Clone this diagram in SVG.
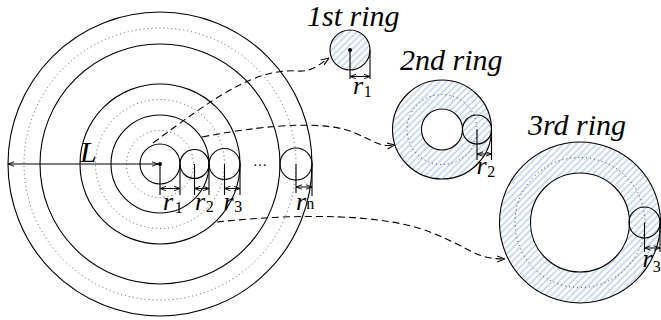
<svg xmlns="http://www.w3.org/2000/svg" width="661" height="320" viewBox="0 0 661 320">
<style>
.ln{fill:none;stroke:#000;stroke-width:1.1}
.dot{fill:none;stroke:#555;stroke-width:1;stroke-dasharray:1 3}
.dotk{fill:none;stroke:#222;stroke-width:0.9;stroke-dasharray:1 3}
.dim{fill:none;stroke:#000;stroke-width:1;marker-start:url(#ah);marker-end:url(#ah)}
.dash{fill:none;stroke:#000;stroke-width:1.1;stroke-dasharray:7 4;marker-end:url(#ac)}
.ttl{font-family:"Liberation Serif","Times New Roman",serif;font-style:italic;font-size:30px;fill:#000}
.lab{font-family:"Liberation Serif","Times New Roman",serif;font-style:italic;font-size:26px;fill:#000}
.sub{font-style:normal;font-size:16px}
</style>
<defs>
<pattern id="hatch" patternUnits="userSpaceOnUse" width="4.7" height="10" patternTransform="rotate(45)">
<line x1="2" y1="-1" x2="2" y2="11" stroke="#a3c1e0" stroke-width="1.1"/>
</pattern>
<marker id="ah" viewBox="0 0 8 8" refX="8" refY="4" markerWidth="6" markerHeight="6" markerUnits="userSpaceOnUse" orient="auto-start-reverse">
<path d="M0,1 L8,4 L0,7" fill="none" stroke="#000" stroke-width="1.2"/>
</marker>
<marker id="ac" viewBox="0 0 8 8" refX="8" refY="4" markerWidth="8" markerHeight="8" markerUnits="userSpaceOnUse" orient="auto">
<path d="M0,1 L8,4 L0,7" fill="none" stroke="#000" stroke-width="1.1"/>
</marker>
</defs>
<rect width="661" height="320" fill="#fff"/>

<g id="main">
<circle class="ln" cx="160" cy="164" r="152"/>
<circle class="ln" cx="160" cy="164" r="120"/>
<circle class="ln" cx="160" cy="164" r="80"/>
<circle class="ln" cx="160" cy="164" r="49"/>
<circle class="dot" cx="160" cy="164" r="136"/>
<circle class="dot" cx="160" cy="164" r="64.5"/>
<circle class="dot" cx="160" cy="164" r="33.5"/>
<circle class="ln" cx="160" cy="164" r="20"/>
<circle class="ln" cx="194.5" cy="164" r="14.5"/>
<circle class="ln" cx="224.5" cy="164" r="15.5"/>
<circle class="ln" cx="296" cy="164" r="16"/>
<circle cx="160" cy="164" r="2" fill="#000"/>
<line class="dim" x1="8" y1="164" x2="158" y2="164"/>
<text class="lab" x="80" y="162" style="font-size:30px">L</text>
<text x="260" y="166" text-anchor="middle" style="font-family:'Liberation Serif',serif;font-size:14px">…</text>
<path class="ln" d="M160,164V195M180,164V195M194.5,164V195M209,164V195M224.5,164V195M240,164V195M296,164V193M312,164V196"/>
<line class="dim" x1="160" y1="188.5" x2="180" y2="188.5"/>
<line class="dim" x1="194.5" y1="188.5" x2="209" y2="188.5"/>
<line class="dim" x1="224.5" y1="188.5" x2="240" y2="188.5"/>
<line class="dim" x1="296" y1="187" x2="312" y2="187"/>
<text class="lab" x="163" y="210">r<tspan class="sub" dx="1.5" dy="3">1</tspan></text>
<text class="lab" x="195" y="210">r<tspan class="sub" dx="0.5" dy="2">2</tspan></text>
<text class="lab" x="223.5" y="210">r<tspan class="sub" dx="0.5" dy="2">3</tspan></text>
<text class="lab" x="296" y="210">r<tspan class="sub" dx="0" dy="-1">n</tspan></text>
</g>

<g id="ring1">
<circle cx="350" cy="50" r="20" fill="url(#hatch)" stroke="#000" stroke-width="1.1"/>
<circle cx="350" cy="50" r="2" fill="#000"/>
<path class="ln" d="M350,50V79M370,50V79"/>
<line class="dim" x1="350" y1="76.5" x2="370" y2="76.5"/>
<text class="lab" x="353" y="94">r<tspan class="sub" dx="0.5" dy="3">1</tspan></text>
<text class="ttl" x="307" y="26">1st ring</text>
</g>

<g id="ring2">
<circle cx="442" cy="129.5" r="49.5" fill="url(#hatch)" stroke="#000" stroke-width="1.1"/>
<circle cx="442" cy="129.5" r="20.5" fill="#fff" stroke="#000" stroke-width="1.1"/>
<circle class="dotk" cx="442" cy="129.5" r="35"/>
<circle class="ln" cx="477" cy="129.5" r="14.5"/>
<path class="ln" d="M477,129.5V160M491.5,129.5V160"/>
<line class="dim" x1="477" y1="154" x2="491.5" y2="154"/>
<text class="lab" x="476.5" y="173.5">r<tspan class="sub" dx="0.5" dy="3">2</tspan></text>
<text class="ttl" x="400" y="70">2nd ring</text>
</g>

<g id="ring3">
<circle cx="580" cy="222.5" r="80.5" fill="url(#hatch)" stroke="#000" stroke-width="1.1"/>
<circle cx="580" cy="222.5" r="49.5" fill="#fff" stroke="#000" stroke-width="1.1"/>
<circle class="dotk" cx="580" cy="222.5" r="65"/>
<circle class="ln" cx="644.5" cy="222.5" r="15.5"/>
<path class="ln" d="M644.5,222.5V252M660,222.5V252"/>
<line class="dim" x1="644.5" y1="248" x2="660" y2="248"/>
<text class="lab" x="642.5" y="266.5">r<tspan class="sub" dx="0" dy="5">3</tspan></text>
<text class="ttl" x="528" y="135">3rd ring</text>
</g>

<g id="connectors">
<path class="dash" d="M153,143 C215,97 255,68 298,71 C312,72 320,64 329,58"/>
<path class="dash" d="M202,137 C280,122 330,122 355,133 S380,147 395,145"/>
<path class="dash" d="M217,222 C300,213 385,214 430,232 S475,259 505,259"/>
</g>
</svg>
